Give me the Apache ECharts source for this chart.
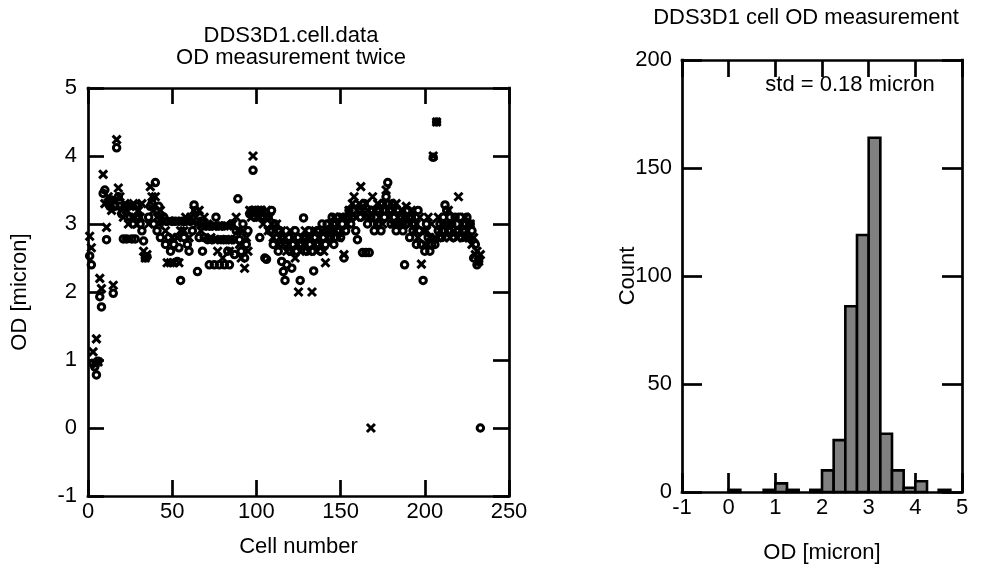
<!DOCTYPE html>
<html>
<head>
<meta charset="utf-8">
<script src="https://cdn.jsdelivr.net/npm/echarts@6/dist/echarts.min.js"></script>
<style>
html,body{margin:0;padding:0;background:#fff;}
#chart{width:981px;height:569px;}
</style>
</head>
<body>
<div id="chart"></div>
<script>
// OD measurement 1 (circles), cells 1..233
const odFirst = [
 2.53, 2.40, 0.95, 0.90, 0.78, 0.98, 1.93, 1.78, 3.45, 3.50,
 2.77, 3.30, 3.26, 3.35, 1.98, 3.26, 4.12, 3.40, 3.26, 3.15,
 2.78, 3.26, 2.78, 3.26, 3.10, 2.78, 3.00, 2.78, 3.26, 3.10,
 3.00, 2.90, 2.75, 2.50, 2.52, 3.10, 3.26, 3.30, 3.00, 3.61,
 2.90, 3.26, 2.80, 3.04, 3.10, 2.70, 3.04, 2.80, 2.60, 3.04,
 2.70, 3.04, 2.45, 2.65, 2.17, 3.04, 2.80, 3.04, 2.70, 2.60,
 3.04, 2.90, 3.28, 3.20, 2.30, 2.80, 3.04, 2.60, 2.80, 2.97,
 2.77, 2.40, 2.97, 2.77, 2.40, 3.10, 2.97, 2.40, 2.77, 2.97,
 2.40, 2.77, 2.60, 2.40, 3.00, 2.77, 2.55, 2.90, 3.37, 2.77,
 2.60, 3.00, 2.50, 2.70, 2.90, 3.15, 3.20, 3.79, 3.10, 3.20,
 3.15, 2.80, 3.20, 3.10, 2.50, 2.48, 3.10, 2.90, 3.20, 2.70,
 3.00, 2.80, 2.60, 2.90, 2.45, 2.30, 2.17, 2.40, 2.80, 2.60,
 2.35, 2.70, 2.90, 2.60, 2.80, 2.17, 2.70, 3.09, 2.80, 2.60,
 2.90, 2.70, 2.60, 2.31, 2.80, 2.90, 2.70, 2.60, 3.00, 2.80,
 2.70, 3.00, 2.90, 2.80, 3.10, 2.70, 3.00, 2.90, 3.10, 2.80,
 3.00, 2.50, 2.90, 3.10, 3.20, 3.00, 3.10, 3.20, 2.90, 2.77,
 3.20, 3.10, 2.58, 3.30, 2.58, 3.00, 2.58, 3.10, 3.20, 2.90,
 3.10, 3.00, 3.20, 2.90, 3.30, 3.10, 3.40, 3.61, 3.20, 3.00,
 3.30, 3.10, 2.90, 3.20, 3.00, 3.10, 2.90, 2.40, 3.00, 3.20,
 2.80, 3.10, 2.90, 3.00, 2.70, 3.20, 2.90, 2.70, 2.17, 2.60,
 3.00, 2.80, 2.60, 2.70, 3.98, 2.70, 4.50, 2.90, 3.00, 2.80,
 3.10, 3.28, 3.20, 2.90, 3.10, 3.00, 2.80, 3.10, 3.00, 2.90,
 3.10, 2.80, 3.00, 2.90, 3.10, 2.80, 3.00, 2.90, 2.50, 2.70,
 2.40, 2.45, 0.00
];
// OD measurement 2 (crosses), cells 1..233
const odSecond = [
 2.82, 2.65, 1.12, 0.95, 1.31, 0.97, 2.20, 2.05, 3.73, 3.30,
 2.95, 3.40, 3.30, 3.20, 2.10, 3.35, 4.24, 3.53, 3.40, 3.20,
 3.10, 3.30, 3.20, 3.00, 3.26, 3.10, 3.30, 3.10, 3.00, 3.20,
 3.10, 3.30, 2.60, 2.50, 2.55, 3.00, 3.55, 3.40, 3.20, 3.40,
 3.10, 3.00, 3.20, 3.10, 3.04, 2.90, 2.43, 3.04, 2.43, 2.80,
 2.43, 3.04, 2.80, 2.43, 2.90, 3.04, 2.90, 3.10, 3.04, 2.80,
 3.10, 3.04, 3.20, 3.10, 3.00, 3.20, 2.90, 3.00, 3.10, 2.97,
 3.00, 2.97, 2.80, 2.97, 2.77, 2.97, 2.60, 2.97, 2.77, 2.50,
 2.97, 2.77, 2.97, 2.60, 2.77, 3.00, 2.77, 3.10, 2.90, 2.70,
 2.50, 2.90, 2.35, 2.80, 2.60, 3.20, 3.10, 4.00, 3.20, 3.10,
 3.20, 3.10, 3.20, 3.00, 3.10, 3.20, 2.90, 3.10, 3.00, 2.80,
 2.90, 3.00, 2.70, 2.80, 2.90, 2.70, 2.80, 2.60, 2.70, 2.90,
 2.60, 2.80, 2.50, 2.70, 2.00, 2.60, 2.80, 2.70, 2.90, 2.80,
 2.60, 2.80, 2.00, 2.70, 2.90, 2.60, 2.80, 2.70, 2.90, 2.60,
 2.43, 2.80, 2.90, 3.00, 2.80, 3.10, 2.90, 3.00, 2.80, 3.10,
 2.90, 2.55, 3.10, 3.00, 3.20, 3.10, 3.30, 3.40, 3.10, 3.20,
 3.30, 3.55, 3.20, 3.10, 3.30, 3.20, 3.10, 0.00, 3.40, 3.20,
 3.00, 3.30, 3.10, 3.20, 3.00, 3.30, 3.50, 3.20, 3.10, 3.30,
 3.00, 3.20, 3.30, 3.10, 3.00, 3.20, 3.10, 3.00, 3.26, 3.10,
 3.00, 3.20, 3.10, 2.90, 3.00, 2.80, 3.10, 2.41, 2.90, 2.70,
 2.90, 3.10, 2.80, 3.00, 4.00, 2.80, 4.50, 3.10, 2.90, 3.00,
 2.80, 3.00, 2.90, 3.20, 2.80, 3.00, 2.90, 3.10, 2.80, 3.40,
 2.90, 3.00, 2.80, 3.10, 2.90, 2.80, 3.00, 2.70, 2.80, 2.55,
 2.60, 2.45, 2.55
];
// Histogram: bin start (micron) and count, bin width 0.25
const histBinStart = [0.00, 0.75, 1.00, 1.25, 1.75, 2.00, 2.25, 2.50, 2.75, 3.00, 3.25, 3.50, 3.75, 4.00, 4.50];
const histCount    = [1,    1,    4,    1,    1,    10,   24,   86,   119,  164,  27,   10,   2,    5,    1];
const binWidth = 0.25;

const FONT = '"Liberation Sans", Arial, Helvetica, sans-serif';

const pts1 = odFirst.map((v, i) => [i + 1, v]);
const pts2 = odSecond.map((v, i) => [i + 1, v]);
const histData = histBinStart.map((s, i) => [s, s + binWidth, histCount[i]]);

function axisBase(extra) {
  return Object.assign({
    type: 'value',
    nameMoveOverlap: false,
    splitLine: { show: false },
    axisLine: { show: true, onZero: false, lineStyle: { color: '#000', width: 2.7, cap: 'square' } },
    axisTick: { show: true, inside: true, length: 16, lineStyle: { color: '#000', width: 2.7 } },
    axisLabel: { color: '#000', fontSize: 22, fontFamily: FONT },
    nameTextStyle: { color: '#000', fontSize: 22, fontFamily: FONT }
  }, extra);
}

const chart = echarts.init(document.getElementById('chart'), null, { renderer: 'canvas' });

const option = {
  backgroundColor: '#fff',
  animation: false,
  textStyle: { fontFamily: FONT },
  grid: [
    { left: 88, top: 88, width: 421, height: 408 },
    { left: 682, top: 60, width: 280, height: 433 }
  ],
  xAxis: [
    axisBase({ gridIndex: 0, min: 0, max: 250, interval: 50, position: 'bottom',
      axisLabel: { color: '#000', fontSize: 22, fontFamily: FONT, margin: 5 },
      name: 'Cell number', nameLocation: 'middle', nameGap: 40 }),
    axisBase({ gridIndex: 0, min: 0, max: 250, interval: 50, position: 'top',
      axisLabel: { show: false } }),
    axisBase({ gridIndex: 1, min: -1, max: 5, interval: 1, position: 'bottom',
      axisTick: { show: true, inside: true, length: 19, lineStyle: { color: '#000', width: 2.7 } },
      axisLabel: { color: '#000', fontSize: 22, fontFamily: FONT, margin: 5 },
      name: 'OD [micron]', nameLocation: 'middle', nameGap: 50 }),
    axisBase({ gridIndex: 1, min: -1, max: 5, interval: 1, position: 'top',
      axisTick: { show: true, inside: true, length: 17, lineStyle: { color: '#000', width: 2.7 } },
      axisLabel: { show: false } })
  ],
  yAxis: [
    axisBase({ gridIndex: 0, min: -1, max: 5, interval: 1, position: 'left',
      axisLabel: { color: '#000', fontSize: 22, fontFamily: FONT, margin: 11 },
      name: 'OD [micron]', nameLocation: 'middle', nameGap: 57, nameRotate: 90 }),
    axisBase({ gridIndex: 0, min: -1, max: 5, interval: 1, position: 'right',
      axisLabel: { show: false } }),
    axisBase({ gridIndex: 1, min: 0, max: 200, interval: 50, position: 'left',
      axisTick: { show: true, inside: true, length: 20, lineStyle: { color: '#000', width: 2.7 } },
      axisLabel: { color: '#000', fontSize: 22, fontFamily: FONT, margin: 10 },
      name: 'Count', nameLocation: 'middle', nameGap: 43, nameRotate: 90 }),
    axisBase({ gridIndex: 1, min: 0, max: 200, interval: 50, position: 'right',
      axisTick: { show: true, inside: true, length: 20, lineStyle: { color: '#000', width: 2.7 } },
      axisLabel: { show: false } })
  ],
  series: [
    {
      name: 'measurement 1', type: 'scatter', xAxisIndex: 0, yAxisIndex: 0,
      data: pts1, symbol: 'circle', symbolSize: 6.5,
      itemStyle: { color: 'rgba(0,0,0,0)', borderColor: '#000', borderWidth: 3, opacity: 1 },
      emphasis: { disabled: true }, z: 3
    },
    {
      name: 'measurement 2', type: 'scatter', xAxisIndex: 0, yAxisIndex: 0,
      data: pts2, symbol: 'path://M0,0L10,10M10,0L0,10', symbolSize: 8,
      itemStyle: { color: '#000', borderColor: '#000', borderWidth: 3, opacity: 1 },
      emphasis: { disabled: true }, z: 4
    },
    {
      name: 'histogram', type: 'custom', xAxisIndex: 2, yAxisIndex: 2,
      data: histData,
      encode: { x: [0, 1], y: 2 },
      renderItem: function (params, api) {
        const p0 = api.coord([api.value(0), 0]);
        const p1 = api.coord([api.value(1), api.value(2)]);
        return {
          type: 'rect',
          shape: { x: p0[0], y: p1[1], width: p1[0] - p0[0], height: p0[1] - p1[1] },
          style: { fill: '#808080', stroke: '#000', lineWidth: 2.6 }
        };
      },
      z: 3
    }
  ],
  graphic: [
    { type: 'text', z: 10, style: { text: 'DDS3D1.cell.data\nOD measurement twice', x: 291, y: 25,
      textAlign: 'center', textVerticalAlign: 'top', font: '22px ' + FONT, lineHeight: 22, fill: '#000' } },
    { type: 'text', z: 10, style: { text: 'DDS3D1 cell OD measurement', x: 806, y: 7,
      textAlign: 'center', textVerticalAlign: 'top', font: '22px ' + FONT, fill: '#000' } },
    { type: 'text', z: 10, style: { text: 'std = 0.18 micron', x: 850, y: 74,
      textAlign: 'center', textVerticalAlign: 'top', font: '22px ' + FONT, fill: '#000' } }
  ]
};

chart.setOption(option);
</script>
</body>
</html>
